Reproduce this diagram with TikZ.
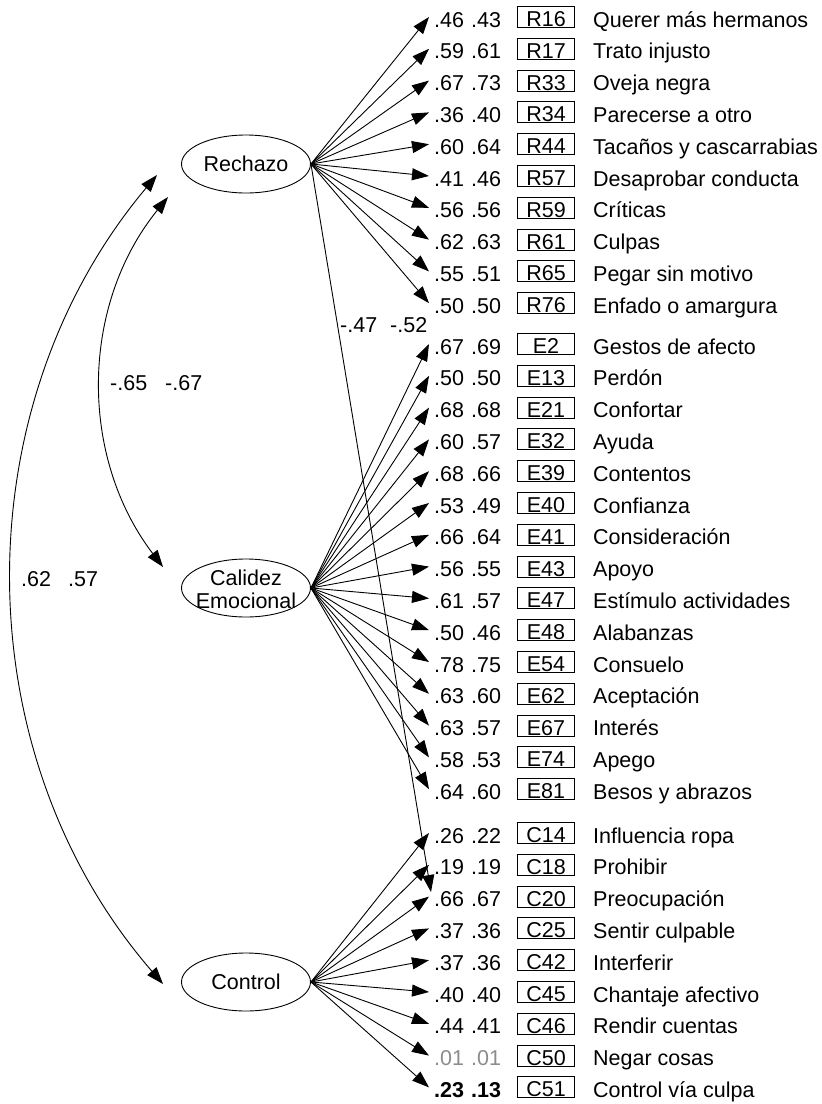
\documentclass[tikz,border=0pt]{standalone}
\usepackage{fontspec}
\setmainfont{Liberation Sans}
\usetikzlibrary{shapes.geometric,arrows.meta}
\definecolor{faint}{gray}{0.55}

\begin{document}
\begin{tikzpicture}[x=1pt,y=-1pt,
  font=\fontsize{21.5}{23}\selectfont,
  lat/.style={ellipse, draw, line width=0.9pt, minimum width=129pt, minimum height=58pt, inner sep=0pt},
  obs/.style={draw, line width=0.9pt, minimum width=57pt, minimum height=21pt, inner sep=0pt, text height=19pt, text depth=0pt},
  val/.style={anchor=base west, inner sep=0pt},
  load/.style={line width=0.9pt, -{Triangle[length=17pt,width=12pt]}},
  cov/.style={line width=0.9pt, {Triangle[length=17pt,width=12pt]}-{Triangle[length=17pt,width=12pt]}},
]
\useasboundingbox (0,0) rectangle (822,1104);

% latent factors
\node[lat] (rech) at (246,164) {Rechazo};
\node[lat] (cal) at (246,588) {};
\node[align=center, inner sep=0pt] (calT) at (246,589) {Calidez\\Emocional};
\node[lat] (cont) at (246,982) {Control};

% Rechazo items
\foreach \i/\c/\a/\b/\lab in {
  0/R16/.46/.43/Querer más hermanos,
  1/R17/.59/.61/Trato injusto,
  2/R33/.67/.73/Oveja negra,
  3/R34/.36/.40/Parecerse a otro,
  4/R44/.60/.64/Tacaños y cascarrabias,
  5/R57/.41/.46/Desaprobar conducta,
  6/R59/.56/.56/Críticas,
  7/R61/.62/.63/Culpas,
  8/R65/.55/.51/Pegar sin motivo,
  9/R76/.50/.50/Enfado o amargura}{
  \pgfmathsetmacro\yy{17+31.8*\i}
  \node[obs] (\c) at (546,\yy) {\c};
  \node[val] (\c a) at (434,\yy+10) {\a};
  \node[val] (\c b) at (471,\yy+10) {\b};
  \node[val] (\c l) at (593,\yy+10) {\lab};
  \coordinate (t\c) at (429,\yy);
  \draw[load] (rech.east) -- (t\c);
}

% Calidez Emocional items
\foreach \i/\c/\a/\b/\lab in {
  0/E2/.67/.69/Gestos de afecto,
  1/E13/.50/.50/Perdón,
  2/E21/.68/.68/Confortar,
  3/E32/.60/.57/Ayuda,
  4/E39/.68/.66/Contentos,
  5/E40/.53/.49/Confianza,
  6/E41/.66/.64/Consideración,
  7/E43/.56/.55/Apoyo,
  8/E47/.61/.57/Estímulo actividades,
  9/E48/.50/.46/Alabanzas,
  10/E54/.78/.75/Consuelo,
  11/E62/.63/.60/Aceptación,
  12/E67/.63/.57/Interés,
  13/E74/.58/.53/Apego,
  14/E81/.64/.60/Besos y abrazos}{
  \pgfmathsetmacro\yy{344+31.8*\i}
  \node[obs] (\c) at (546,\yy) {\c};
  \node[val] (\c a) at (434,\yy+10) {\a};
  \node[val] (\c b) at (471,\yy+10) {\b};
  \node[val] (\c l) at (593,\yy+10) {\lab};
  \coordinate (t\c) at (429,\yy);
  \draw[load] (cal.east) -- (t\c);
}

% Control items
\foreach \i/\c/\a/\b/\lab in {
  0/C14/.26/.22/Influencia ropa,
  1/C18/.19/.19/Prohibir,
  2/C20/.66/.67/Preocupación,
  3/C25/.37/.36/Sentir culpable,
  4/C42/.37/.36/Interferir,
  5/C45/.40/.40/Chantaje afectivo,
  6/C46/.44/.41/Rendir cuentas}{
  \pgfmathsetmacro\yy{833+31.8*\i}
  \node[obs] (\c) at (546,\yy) {\c};
  \node[val] (\c a) at (434,\yy+10) {\a};
  \node[val] (\c b) at (471,\yy+10) {\b};
  \node[val] (\c l) at (593,\yy+10) {\lab};
  \coordinate (t\c) at (429,\yy);
  \draw[load] (cont.east) -- (t\c);
}
% C50: weak loading in grey
\node[obs] (C50) at (546,1055.6) {C50};
\node[val, text=faint] (C50a) at (434,1065.6) {.01};
\node[val, text=faint] (C50b) at (471,1065.6) {.01};
\node[val] (C50l) at (593,1065.6) {Negar cosas};
\coordinate (tC50) at (429,1055.6);
\draw[load] (cont.east) -- (tC50);
% C51: bold values
\node[obs] (C51) at (546,1087.4) {C51};
\node[val, font=\fontsize{21.5}{23}\selectfont\bfseries] (C51a) at (434,1097.4) {.23};
\node[val, font=\fontsize{21.5}{23}\selectfont\bfseries] (C51b) at (471,1097.4) {.13};
\node[val] (C51l) at (593,1097.4) {Control vía culpa};
\coordinate (tC51) at (429,1087.4);
\draw[load] (cont.east) -- (tC51);

% cross loading Rechazo -> C20
\coordinate (tC20x) at (431,892);
\draw[load] (rech.east) -- (tC20x);
\node[val] (xl1) at (340,332) {-.47};
\node[val] (xl2) at (390,332) {-.52};

% factor correlations
\coordinate (cr1) at (157,175);
\coordinate (cc1) at (163,984);
\draw[cov] (cr1) .. controls (-37,406) and (-37,753) .. (cc1);
\coordinate (cr2) at (168,197);
\coordinate (ce2) at (163,567);
\draw[cov] (cr2) .. controls (79.5,306.5) and (79.5,457.5) .. (ce2);
\node[val] (k1) at (110,390) {-.65};
\node[val] (k2) at (165,390) {-.67};
\node[val] (k3) at (21,586) {.62};
\node[val] (k4) at (68,586) {.57};
\end{tikzpicture}
\end{document}
